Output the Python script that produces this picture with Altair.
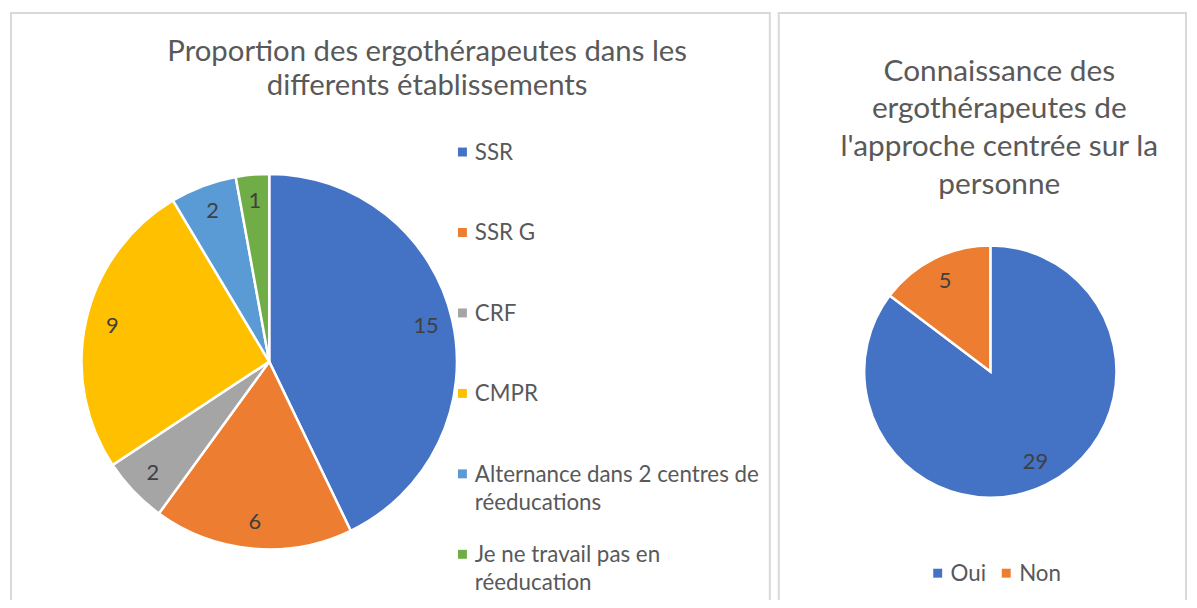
import altair as alt
import pandas as pd

# ---------------- data ----------------
ETAB_CATEGORIES = ["SSR", "SSR G", "CRF", "CMPR",
                   "Alternance dans 2 centres de réeducations",
                   "Je ne travail pas en réeducation"]
ETAB_LEGEND = ["SSR", "SSR G", "CRF", "CMPR",
               "Alternance dans 2 centres de\nréeducations",
               "Je ne travail pas en\nréeducation"]
ETAB_VALUES = [15, 6, 2, 9, 2, 1]
ETAB_COLORS = ["#4472C4", "#ED7D31", "#A5A5A5", "#FFC000", "#5B9BD5", "#70AD47"]
ETAB_TITLE = ["Proportion des ergothérapeutes dans les", "differents établissements"]

ACP_CATEGORIES = ["Oui", "Non"]
ACP_VALUES = [29, 5]
ACP_COLORS = ["#4472C4", "#ED7D31"]
ACP_TITLE = ["Connaissance des", "ergothérapeutes de",
             "l'approche centrée sur la", "personne"]

FONT = "Lato"
TXT = "#595959"
LBL = "#404040"
BORDER = "#d9d9d9"

W1, W2, H = 766, 412, 592

one = pd.DataFrame({"k": [0]})


def borders(w):
    top = alt.Chart(one).mark_rule(color=BORDER, strokeWidth=2).encode(
        x=alt.value(0), x2=alt.value(w), y=alt.value(1))
    left = alt.Chart(one).mark_rule(color=BORDER, strokeWidth=2).encode(
        x=alt.value(1), y=alt.value(0), y2=alt.value(H))
    right = alt.Chart(one).mark_rule(color=BORDER, strokeWidth=2).encode(
        x=alt.value(w - 1), y=alt.value(0), y2=alt.value(H))
    return [top, left, right]


# ---------------- left panel ----------------
df1 = pd.DataFrame({"cat": ETAB_CATEGORIES, "leg": ETAB_LEGEND,
                    "value": ETAB_VALUES, "pos": list(range(len(ETAB_VALUES)))})
color1 = alt.Color("cat:N", scale=alt.Scale(domain=ETAB_CATEGORIES, range=ETAB_COLORS),
                   legend=None)
theta1 = alt.Theta("value:Q", stack=True)
order1 = alt.Order("pos:Q")
base1 = alt.Chart(df1)

pie1 = base1.mark_arc(radius=189, stroke="white", strokeWidth=2.5).encode(
    theta=theta1, color=color1, order=order1, x=alt.value(261), y=alt.value(352))
lab1 = base1.mark_text(radius=162, font=FONT, fontSize=22, color=LBL,
                       baseline="middle", align="center").encode(
    theta=theta1, order=order1, text="value:Q", x=alt.value(261), y=alt.value(352))

ysc1 = alt.Scale(domain=[0, 5], range=[141, 546])
sq1 = base1.mark_square(size=81, opacity=1).encode(
    x=alt.value(455.5), y=alt.Y("pos:Q", scale=ysc1, axis=None), color=color1)
lt1 = base1.mark_text(align="left", baseline="alphabetic", dy=8, lineBreak="\n",
                      lineHeight=28, font=FONT, fontSize=22.5, color=TXT).encode(
    x=alt.value(468), y=alt.Y("pos:Q", scale=ysc1, axis=None), text="leg:N")

title1 = alt.Chart(one).mark_text(align="center", baseline="alphabetic", lineHeight=35,
                                  font=FONT, fontSize=29.5, color=TXT).encode(
    x=alt.value(420), y=alt.value(49), text=alt.value(ETAB_TITLE))

left = alt.layer(*borders(W1), title1, pie1, lab1, sq1, lt1).properties(width=W1, height=H)

# ---------------- right panel ----------------
df2 = pd.DataFrame({"cat": ACP_CATEGORIES, "value": ACP_VALUES,
                    "pos": list(range(len(ACP_VALUES)))})
color2 = alt.Color("cat:N", scale=alt.Scale(domain=ACP_CATEGORIES, range=ACP_COLORS),
                   legend=None)
theta2 = alt.Theta("value:Q", stack=True)
order2 = alt.Order("pos:Q")
base2 = alt.Chart(df2)

pie2 = base2.mark_arc(radius=127, stroke="white", strokeWidth=2.5).encode(
    theta=theta2, color=color2, order=order2, x=alt.value(214), y=alt.value(362))
lab2 = base2.mark_text(radius=102, font=FONT, fontSize=22, color=LBL,
                       baseline="middle", align="center").encode(
    theta=theta2, order=order2, text="value:Q", x=alt.value(214), y=alt.value(362))

xsc2 = alt.Scale(domain=[0, 1], range=[161, 230])
sq2 = base2.mark_square(size=81, opacity=1).encode(
    x=alt.X("pos:Q", scale=xsc2, axis=None), y=alt.value(565), color=color2)
lt2 = base2.mark_text(align="left", baseline="alphabetic", dy=8, dx=13,
                      font=FONT, fontSize=22.5, color=TXT).encode(
    x=alt.X("pos:Q", scale=xsc2, axis=None), y=alt.value(565), text="cat:N")

title2 = alt.Chart(one).mark_text(align="center", baseline="alphabetic", lineHeight=38,
                                  font=FONT, fontSize=30, color=TXT).encode(
    x=alt.value(223), y=alt.value(69), text=alt.value(ACP_TITLE))

right = alt.layer(*borders(W2), title2, pie2, lab2, sq2, lt2).properties(width=W2, height=H)

chart = alt.hconcat(left, right, spacing=3).properties(
    padding=0, background="white"
).configure_view(stroke="transparent")

chart.save("out.html", embed_options={"renderer": "svg", "actions": False})
